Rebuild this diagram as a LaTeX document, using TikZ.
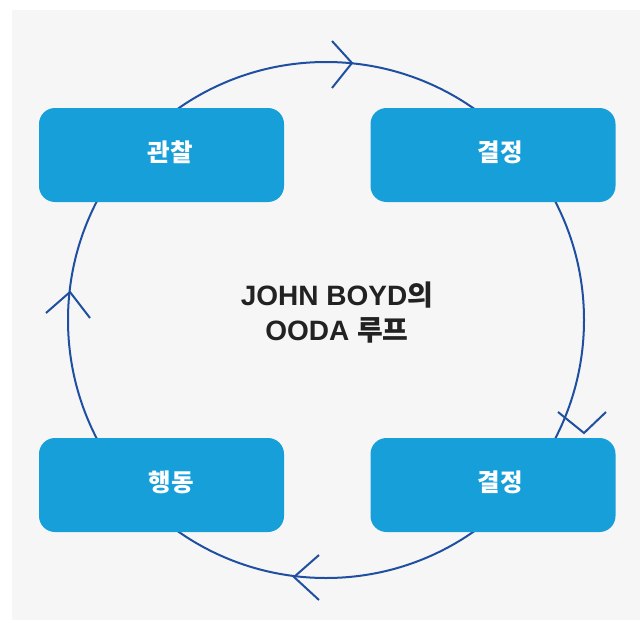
\documentclass[tikz,border=0pt]{standalone}
\usepackage{fontspec}
\setmainfont{Liberation Sans}
\newfontfamily\kr{Noto Sans CJK KR}
\definecolor{bgc}{HTML}{F6F6F6}
\definecolor{boxblue}{HTML}{179FDA}
\definecolor{ring}{HTML}{1F4FA0}
\definecolor{ink}{HTML}{222222}
\begin{document}
\begin{tikzpicture}[x=1pt,y=-1pt,
  stage/.style={fill=boxblue, rounded corners=16pt, minimum width=245pt, minimum height=94pt, inner sep=0pt},
  stagetext/.style={text=white, font=\kr\bfseries\fontsize{24.5}{28}\selectfont, inner sep=0pt},
  ringline/.style={draw=ring, line width=2pt},
  chevron/.style={draw=ring, line width=2pt},
  title/.style={text=ink, align=center, font=\bfseries\fontsize{28}{35}\selectfont}]
\useasboundingbox (0,0) rectangle (640,626);
\fill[bgc] (12,10) rectangle (640,620);
\draw[ringline] (326,320) circle[radius=258];
\draw[chevron] (332,41) -- (352,63) -- (332,88);
\draw[chevron] (558,412) -- (584,433) -- (606,412);
\draw[chevron] (319,555) -- (294,577) -- (319,600);
\draw[chevron] (46,313) -- (70,292) -- (90,318);
\node[stage] (obs) at (161.5,155) {};
\node[stage] (dec1) at (493,155) {};
\node[stage] (act) at (161.5,485) {};
\node[stage] (dec2) at (493,485) {};
\node[stagetext] (obsT) at ([xshift=9pt,yshift=3pt]obs.center) {관찰};
\node[stagetext] (dec1T) at ([xshift=7pt,yshift=3pt]dec1.center) {결정};
\node[stagetext] (actT) at ([xshift=10pt,yshift=3pt]act.center) {행동};
\node[stagetext] (dec2T) at ([xshift=7pt,yshift=3pt]dec2.center) {결정};
\node[title] (center) at (337,313) {JOHN BOYD{\kr 의}\\OODA {\kr 루프}};
\end{tikzpicture}
\end{document}
